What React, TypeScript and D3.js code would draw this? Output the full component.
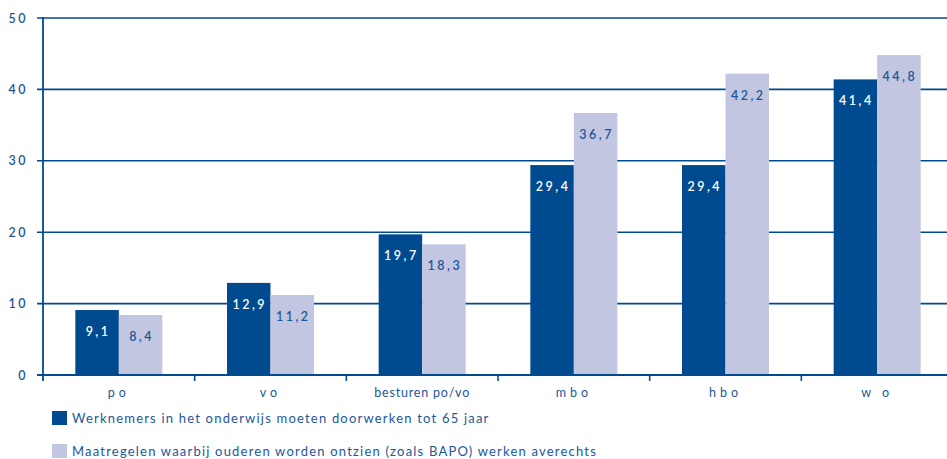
import React from "react";
import * as d3 from "d3";

const categories = ["po", "vo", "besturen po/vo", "mbo", "hbo", "wo"];
const categoryLabels = ["po", "vo", "besturen po/vo", "mbo", "hbo", "w o"];
const seriesNames = [
  "Werknemers in het onderwijs moeten doorwerken tot 65 jaar",
  "Maatregelen waarbij ouderen worden ontzien (zoals BAPO) werken averechts",
];
const series1 = [9.1, 12.9, 19.7, 29.4, 29.4, 41.4];
const series2 = [8.4, 11.2, 18.3, 36.7, 42.2, 44.8];
const yTicks = [0, 10, 20, 30, 40, 50];

const DARK = "#004a8f";
const LIGHT = "#c2c6e0";
const TEXT = "#1d5799";
const FONT = "Lato, 'Open Sans', sans-serif";

export default function App() {
  const W = 947, H = 459;
  const x = d3.scaleBand<string>().domain(categories).range([43, 953]).paddingInner(0).paddingOuter(0);
  const y = d3.scaleLinear().domain([0, 50]).range([375, 18]);
  const inner = d3.scaleBand<string>().domain(["a", "b"]).range([0, 87]);
  const off = (x.bandwidth() - 87) / 2;
  const fmt = (v: number) => v.toFixed(1).replace(".", ",");
  const series = [series1, series2];
  const keys = ["a", "b"];
  const tickXs = categories.map((c) => x(c)!).slice(1);

  return (
    <svg width={W} height={H} style={{ position: "absolute", left: 0, top: 0 }}>
      <rect width={W} height={H} fill="#fff" />
      {yTicks.map((t) => (
        <g key={t}>
          <line x1={37} x2={W} y1={y(t)} y2={y(t)} stroke={DARK} strokeWidth={1.6} />
          <text x={28} y={y(t) + 4.5} textAnchor="end" fill={TEXT} fontFamily={FONT} fontSize={12.5} fontWeight={600} letterSpacing={2.5}>
            {String(t)}
          </text>
        </g>
      ))}
      {series.map((vals, si) =>
        vals.map((v, i) => {
          const bx = x(categories[i])! + off + inner(keys[si])!;
          const bw = inner.bandwidth();
          return (
            <g key={`${si}-${i}`}>
              <rect x={bx} y={y(v)} width={bw} height={y(0) - y(v)} fill={si === 0 ? DARK : LIGHT} />
              <text x={bx + bw / 2 + 1} y={y(v) + 26} textAnchor="middle" fill={si === 0 ? "#ffffff" : TEXT} fontFamily={FONT} fontSize={12.5} fontWeight={600} letterSpacing={2.5}>
                {fmt(v)}
              </text>
            </g>
          );
        })
      )}
      <line x1={43} x2={43} y1={y(50) - 1} y2={381} stroke={DARK} strokeWidth={1.8} />
      <line x1={37} x2={W} y1={y(0)} y2={y(0)} stroke={DARK} strokeWidth={1.8} />
      {tickXs.map((tx, i) => (
        <line key={i} x1={tx} x2={tx} y1={375} y2={381} stroke={DARK} strokeWidth={1.6} />
      ))}
      {categories.map((c, i) => (
        <text key={c} x={x(c)! + x.bandwidth() / 2} y={397} textAnchor="middle" fill={TEXT} fontFamily={FONT} fontSize={12.5} letterSpacing={i === 2 ? 0.8 : 4}>
          {categoryLabels[i]}
        </text>
      ))}
      {seriesNames.map((n, i) => (
        <g key={n}>
          <rect x={52} y={411 + i * 33} width={15} height={14} fill={i === 0 ? DARK : LIGHT} />
          <text x={72} y={423 + i * 33} fill={TEXT} fontFamily={FONT} fontSize={13} letterSpacing={1.2}>
            {n}
          </text>
        </g>
      ))}
    </svg>
  );
}
